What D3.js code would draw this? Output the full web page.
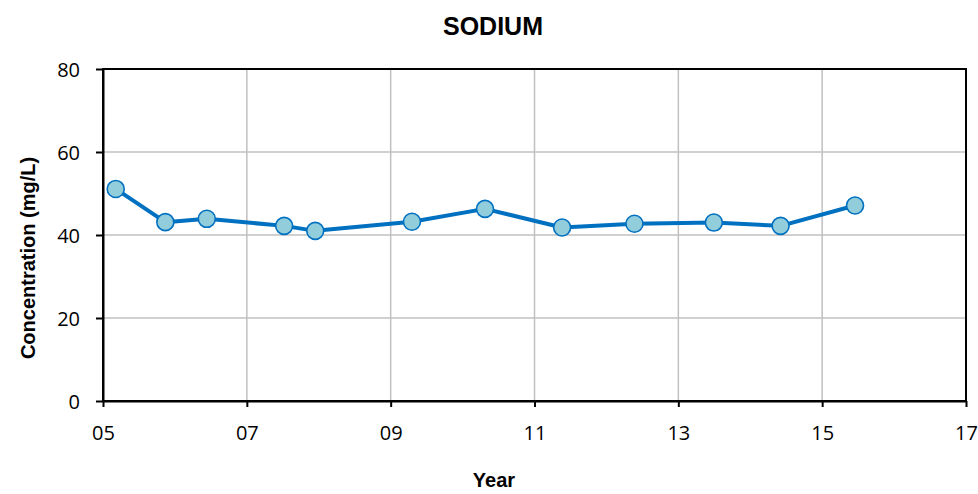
<!DOCTYPE html>
<html><head><meta charset="utf-8">
<script src="https://cdn.jsdelivr.net/npm/d3@7"></script>
<style>body{margin:0;background:#fff}</style>
</head><body>
<svg id="c" width="978" height="494"></svg>
<script>
const years = [5.177, 5.867, 6.443, 7.519, 7.951, 9.296, 10.312, 11.384, 12.39, 13.494, 14.422, 15.457];
const sodium = [51.1, 43.1, 43.9, 42.2, 41.0, 43.2, 46.3, 41.8, 42.7, 43.0, 42.2, 47.1];
const xTicks = [5, 7, 9, 11, 13, 15, 17];
const yTicks = [0, 20, 40, 60, 80];

const svg = d3.select("#c");
const L = 103, R = 966, T = 69, B = 401;
const x = d3.scaleLinear().domain([5, 17]).range([L, R]);
const y = d3.scaleLinear().domain([0, 80]).range([B, T]);

// gridlines
svg.append("g").selectAll("line").data(xTicks.slice(1, -1)).join("line")
  .attr("x1", d => x(d)).attr("x2", d => x(d)).attr("y1", T).attr("y2", B)
  .attr("stroke", "#c0c0c0").attr("stroke-width", 1.5);
svg.append("g").selectAll("line").data(yTicks.slice(1, -1)).join("line")
  .attr("y1", d => y(d)).attr("y2", d => y(d)).attr("x1", L).attr("x2", R)
  .attr("stroke", "#c0c0c0").attr("stroke-width", 1.5);

// border
svg.append("rect").attr("x", L).attr("y", T).attr("width", R - L).attr("height", B - T)
  .attr("fill", "none").attr("stroke", "#000").attr("stroke-width", 2);

const fmt = d => String(d).padStart(2, "0");
const xAxis = svg.append("g").attr("transform", `translate(0,${B})`)
  .call(d3.axisBottom(x).tickValues(xTicks).tickFormat(fmt).tickSize(6).tickSizeOuter(0));
const yAxis = svg.append("g").attr("transform", `translate(${L},0)`)
  .call(d3.axisLeft(y).tickValues(yTicks).tickSize(7).tickSizeOuter(0));
[xAxis, yAxis].forEach(g => {
  g.select(".domain").attr("stroke", "#000").attr("stroke-width", 2);
  g.selectAll(".tick line").attr("stroke", "#000").attr("stroke-width", 2);
  g.selectAll("text").attr("fill", "#000").attr("font-family", "'Open Sans', sans-serif").attr("font-size", 20);
});
xAxis.selectAll("text").attr("dy", null).attr("y", 39);
yAxis.selectAll("text").attr("dy", "0.36em").attr("x", -23);

// line
const pts = years.map((d, i) => [d, sodium[i]]);
svg.append("path").datum(pts)
  .attr("d", d3.line().x(d => x(d[0])).y(d => y(d[1])))
  .attr("fill", "none").attr("stroke", "#0070c0").attr("stroke-width", 4).attr("stroke-linejoin", "round");
svg.append("g").selectAll("circle").data(pts).join("circle")
  .attr("cx", d => x(d[0])).attr("cy", d => y(d[1])).attr("r", 8.5)
  .attr("fill", "#92cddc").attr("stroke", "#0070c0").attr("stroke-width", 1.6);

// titles
svg.append("text").attr("x", 493).attr("y", 34.5).attr("text-anchor", "middle")
  .attr("font-family", "'Liberation Sans', Arial, sans-serif").attr("font-weight", "bold").attr("font-size", 25)
  .text("SODIUM");
svg.append("text").attr("x", 494).attr("y", 487).attr("text-anchor", "middle")
  .attr("font-family", "'Liberation Sans', Arial, sans-serif").attr("font-weight", "bold").attr("font-size", 20)
  .text("Year");
svg.append("text").attr("transform", "translate(35,258) rotate(-90)").attr("text-anchor", "middle")
  .attr("font-family", "'Liberation Sans', Arial, sans-serif").attr("font-weight", "bold").attr("font-size", 20)
  .text("Concentration (mg/L)");
</script>
</body></html>
